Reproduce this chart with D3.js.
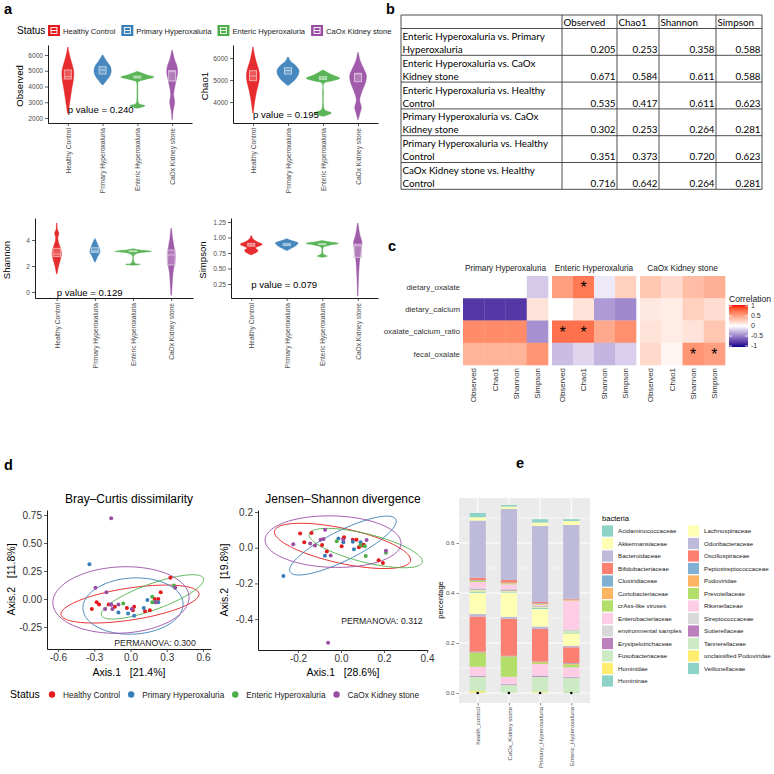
<!DOCTYPE html>
<html>
<head>
<meta charset="utf-8">
<script src="https://cdn.jsdelivr.net/npm/d3@7"></script>
<style>
html,body{margin:0;padding:0;background:#fff;}
svg{display:block;font-family:"Liberation Sans",Arial,sans-serif;}
</style>
</head>
<body>
<svg id="fig" width="774" height="774"></svg>
<script>
// ================= DATA =================
const statusGroups = ["Healthy Control","Primary Hyperoxaluria","Enteric Hyperoxaluria","CaOx Kidney stone"];
const statusColors = ["#E41A1C","#377EB8","#4DAF4A","#984EA3"];

// (a) violin density profiles: [value, relative half-width]
const observedViolins = [
  [[2300,0.02],[2800,0.09],[3300,0.16],[3800,0.23],[4200,0.3],[4600,0.35],[5000,0.35],[5400,0.26],[5800,0.15],[6200,0.06],[6500,0.02]],
  [[4100,0.02],[4400,0.25],[4700,0.45],[5000,0.52],[5300,0.45],[5600,0.25],[6000,0.02]],
  [[2620,0.02],[2780,0.46],[2900,0.1],[3100,0.04],[3600,0.03],[4100,0.03],[4300,0.06],[4450,0.5],[4600,1.0],[4750,0.55],[4950,0.03]],
  [[1900,0.02],[2400,0.05],[3000,0.15],[3500,0.09],[4000,0.16],[4500,0.26],[4900,0.33],[5300,0.29],[5700,0.15],[6300,0.02]]
];
const observedBoxes = [[4476,4622,5048],[4794,5048,5259],[4540,4600,4660],[4349,4942,5005]];

const chao1Violins = [
  [[3500,0.02],[4000,0.1],[4500,0.22],[4900,0.35],[5200,0.39],[5500,0.33],[5900,0.17],[6200,0.08],[6500,0.02]],
  [[4750,0.02],[5000,0.4],[5250,0.62],[5450,0.65],[5700,0.4],[5850,0.16],[6050,0.02]],
  [[3350,0.02],[3500,0.5],[3650,0.1],[3900,0.03],[4400,0.03],[4850,0.06],[4950,0.5],[5080,1.0],[5250,0.5],[5450,0.03]],
  [[3200,0.02],[3500,0.12],[3750,0.2],[4100,0.1],[4500,0.25],[4900,0.45],[5200,0.5],[5500,0.35],[5900,0.12],[6250,0.02]]
];
const chao1Boxes = [[4970,5182,5424],[5273,5424,5560],[5030,5090,5150],[4924,5273,5303]];

const shannonViolins = [
  [[1.4,0.02],[2.0,0.1],[2.5,0.2],[2.9,0.26],[3.3,0.22],[3.8,0.1],[4.2,0.06],[4.5,0.12],[4.8,0.04],[5.3,0.02]],
  [[2.3,0.02],[2.7,0.14],[3.1,0.28],[3.5,0.2],[4.1,0.02]],
  [[2.05,0.02],[2.13,0.4],[2.22,0.1],[2.4,0.04],[2.8,0.04],[3.0,0.3],[3.12,1.0],[3.25,0.3],[3.32,0.02]],
  [[-0.25,0.02],[0.5,0.05],[1.5,0.1],[2.3,0.2],[2.9,0.22],[3.5,0.15],[4.2,0.07],[4.9,0.02]]
];
const shannonBoxes = [[2.72,2.92,3.36],[3.05,3.15,3.4],[3.1,3.13,3.17],[2.08,2.85,3.23]];

const simpsonViolins = [
  [[0.72,0.02],[0.76,0.3],[0.79,0.4],[0.83,0.25],[0.87,0.55],[0.89,0.65],[0.93,0.35],[0.98,0.1],[1.03,0.02]],
  [[0.79,0.02],[0.83,0.3],[0.87,0.55],[0.91,0.67],[0.95,0.3],[0.98,0.02]],
  [[0.68,0.02],[0.70,0.3],[0.73,0.08],[0.78,0.03],[0.84,0.06],[0.88,0.5],[0.905,0.95],[0.93,0.4],[0.95,0.02]],
  [[0.06,0.02],[0.3,0.04],[0.6,0.1],[0.8,0.2],[0.92,0.25],[1.05,0.12],[1.23,0.02]]
];
const simpsonBoxes = [[0.86,0.88,0.905],[0.87,0.88,0.90],[0.885,0.89,0.90],[0.68,0.865,0.89]];

const alphaMetrics = ["Observed","Chao1","Shannon","Simpson"];
const kruskalP = ["0.240","0.195","0.129","0.079"];
const pLabelY = [2508,3409,-0.05,0.245];
const observedTicks = [2000,3000,4000,5000,6000];
const chao1Ticks = [4000,5000,6000];
const shannonTicks = [0,2,4];
const simpsonTicks = [0.25,0.5,0.75,1.0,1.25];

// (b) pairwise p-values
const comparisons = [
  "Enteric Hyperoxaluria vs. Primary Hyperoxaluria",
  "Enteric Hyperoxaluria vs. CaOx Kidney stone",
  "Enteric Hyperoxaluria vs. Healthy Control",
  "Primary Hyperoxaluria vs. CaOx Kidney stone",
  "Primary Hyperoxaluria vs. Healthy Control",
  "CaOx Kidney stone vs. Healthy Control"
];
const pObserved = [0.205,0.671,0.535,0.302,0.351,0.716];
const pChao1    = [0.253,0.584,0.417,0.253,0.373,0.642];
const pShannon  = [0.358,0.611,0.611,0.264,0.720,0.264];
const pSimpson  = [0.588,0.588,0.623,0.281,0.623,0.281];

// (c) correlation heatmap
const dietVars = ["dietary_oxalate","dietary_calcium","oxalate_calcium_ratio","fecal_oxalate"];
const heatFacets = ["Primary Hyperoxaluria","Enteric Hyperoxaluria","CaOx Kidney stone"];
const corrPrimary = [[0,0,0,-0.2],[-0.78,-0.78,-0.78,0.15],[0.6,0.6,0.6,-0.42],[0.4,0.4,0.4,0.55]];
const corrEnteric = [[0.5,0.68,-0.08,0.25],[0,0.15,-0.38,-0.45],[0.72,0.72,0.45,0.58],[-0.25,-0.15,-0.28,-0.18]];
const corrCaOx    = [[0.3,0.2,0.35,0.42],[0.12,0.1,0.25,0.18],[0.15,0.1,0.15,0.3],[0.2,0.05,0.55,0.5]];
const sigPrimary = [["","","",""],["","","",""],["","","",""],["","","",""]];
const sigEnteric = [["","*","",""],["","","",""],["*","*","",""],["","","",""]];
const sigCaOx    = [["","","",""],["","","",""],["","","",""],["","","*","*"]];
const corrLegendTicks = [1,0.5,0,-0.5,-1];

// (d) ordination points: [axis1, axis2]
const bcHealthy = [[0.33,0.19],[0.25,0.06],[0.20,0.00],[0.23,0.00],[0.12,-0.11],[0.16,-0.10],[-0.28,-0.03],[-0.26,-0.05],[-0.32,-0.09],[-0.18,-0.05],[-0.13,-0.07],[-0.03,-0.08],[0.03,-0.07],[0.02,-0.10]];
const bcPrimary = [[-0.34,0.31],[0.14,-0.01],[0.11,-0.08],[0.23,-0.03],[-0.16,-0.05],[-0.10,-0.12],[-0.02,-0.13],[0.03,-0.15],[0.20,-0.03]];
const bcEnteric = [[0.36,0.12],[0.18,0.02],[0.18,-0.03],[-0.06,-0.04],[0.21,-0.03]];
const bcCaOx    = [[-0.16,0.72],[-0.29,0.10],[-0.20,0.06],[0.37,0.10],[-0.21,-0.09],[-0.16,-0.05],[-0.15,-0.09],[-0.10,-0.05],[0.01,-0.09],[0.21,-0.03]];
const jsHealthy = [[-0.190,0.079],[-0.171,0.030],[-0.137,0.083],[-0.088,0.015],[-0.066,-0.021],[0.014,0.059],[0.011,0.051],[0.003,0.008],[0.055,0.045],[0.072,0.045],[0.083,0.002],[0.098,0.013],[0.106,0.017],[0.175,-0.071],[0.195,-0.086]];
const jsPrimary = [[-0.268,-0.158],[-0.075,-0.045],[-0.012,0.051],[0.011,0.030],[0.055,0.034],[0.060,-0.008],[0.091,0.030]];
const jsEnteric = [[-0.020,0.036],[0.111,0.008],[0.115,-0.047],[0.209,-0.028],[0.090,0.015]];
const jsCaOx    = [[-0.222,0.019],[-0.074,0.101],[-0.143,0.023],[-0.121,0.013],[-0.095,0.045],[-0.081,0.049],[-0.048,-0.043],[-0.060,-0.533],[0.011,0.045],[0.119,0.043],[0.209,-0.017]];
// 95% ellipses: center, two conjugate semi-axis vectors (data units)
const bcEllipseCenters = [[-0.004,-0.045],[0.021,-0.063],[0.182,0.019],[-0.079,-0.009]];
const bcEllipseU = [[0.571,0.094],[0.414,0.027],[0.422,0.165],[0.563,0.036]];
const bcEllipseV = [[0.020,-0.141],[0.017,-0.25],[0.036,-0.109],[0.025,-0.295]];
const jsEllipseCenters = [[0.007,0.010],[0.009,0.012],[0.115,-0.002],[-0.037,0.034]];
const jsEllipseU = [[0.316,-0.084],[0.246,0.147],[0.263,-0.079],[0.316,-0.011]];
const jsEllipseV = [[-0.019,-0.095],[0.031,-0.075],[-0.016,-0.077],[-0.005,-0.144]];
const permanova = ["0.300","0.312"];
const axisVariance = {bc:["21.4%","11.8%"], js:["28.6%","19.8%"]};

// (e) relative abundance
const bacteria = ["Acidaminococcaceae","Akkermansiaceae","Bacteroidaceae","Bifidobacteriaceae","Clostridiaceae","Coriobacteriaceae","crAss-like viruses","Enterobacteriaceae","environmental samples","Erysipelotrichaceae","Fusobacteriaceae","Hominidae","Homininae","Lachnospiraceae","Odoribacteraceae","Oscillospiraceae","Peptostreptococcaceae","Podoviridae","Prevotellaceae","Rikenellaceae","Streptococcaceae","Sutterellaceae","Tannerellaceae","unclassified Podoviridae","Veillonellaceae"];
const bacteriaColors = ["#8DD3C7","#FFFFB3","#BEBADA","#FB8072","#80B1D3","#FDB462","#B3DE69","#FCCDE5","#D9D9D9","#BC80BD","#CCEBC5","#FFED6F"];
const sampleGroups = ["health_control","CaOx_Kidney stone","Primary_Hyperoxaluria","Enteric_Hyperoxaluria"];
const abHealthy = [0.017,0.013,0.229,0.009,0.002,0.002,0.004,0.024,0.003,0.003,0.005,0.003,0.005,0.085,0.010,0.140,0.003,0.003,0.055,0.035,0.002,0.003,0.057,0.006,0.002];
const abCaOx    = [0.006,0.009,0.285,0.010,0.002,0.002,0.003,0.018,0.003,0.004,0.003,0.002,0.003,0.097,0.008,0.148,0.002,0.002,0.080,0.028,0.002,0.003,0.030,0.001,0.001];
const abPrimary = [0.013,0.013,0.305,0.005,0.002,0.002,0.002,0.004,0.002,0.002,0.003,0.002,0.004,0.070,0.010,0.130,0.002,0.002,0.006,0.045,0.002,0.004,0.060,0.004,0.001];
const abEnteric = [0.007,0.016,0.295,0.003,0.001,0.003,0.001,0.116,0.002,0.001,0.010,0.001,0.002,0.048,0.006,0.064,0.003,0.002,0.011,0.038,0.002,0.003,0.055,0.002,0.003];
const percentTicks = [0,0.2,0.4,0.6];

// ================= DRAWING =================
const svg = d3.select("#fig");
const defs = svg.append("defs");
const TXT = "#4D4D4D";
const fmtLocale = d3.formatLocale({decimal:".",thousands:",",grouping:[3],currency:["$",""],minus:"-"});

function lin(v1,p1,v2,p2,pa,pb){
  const s = d3.scaleLinear().domain([v1,v2]).range([p1,p2]);
  return d3.scaleLinear().domain([s.invert(pa),s.invert(pb)]).range([pa,pb]);
}
function styleAxis(ax, size, color){
  ax.attr("font-family",null).attr("font-size",null);
  ax.select(".domain").attr("stroke","#000").attr("stroke-width",0.9);
  ax.selectAll(".tick line").attr("stroke","#333").attr("stroke-width",0.8);
  ax.selectAll(".tick text").attr("fill",color).attr("font-size",size);
}

// panel letters
[["a",4,14],["b",386,14],["c",388,251],["d",4,470],["e",516,468]].forEach(([t,x,y])=>{
  svg.append("text").attr("x",x).attr("y",y).attr("font-size",14.5).attr("font-weight","bold").text(t);
});

// ---------- (a) legend ----------
{
  const g = svg.append("g");
  g.append("text").attr("x",17).attr("y",34).attr("font-size",10).text("Status");
  let cx = 48;
  statusGroups.forEach((s,i)=>{
    g.append("rect").attr("x",cx).attr("y",25).attr("width",12).attr("height",11).attr("fill",statusColors[i]);
    g.append("rect").attr("x",cx+3).attr("y",27.5).attr("width",6).attr("height",6).attr("fill","none").attr("stroke","#fff").attr("stroke-width",0.9);
    g.append("line").attr("x1",cx+3).attr("x2",cx+9).attr("y1",30.5).attr("y2",30.5).attr("stroke","#fff").attr("stroke-width",0.9);
    const t = g.append("text").attr("x",cx+15).attr("y",33.5).attr("font-size",7.6).attr("fill","#1A1A1A").text(s);
    cx += 15 + t.node().getComputedTextLength() + 6;
  });
}

// ---------- (a) alpha diversity panels ----------
const alphaPanels = [
  {name:alphaMetrics[0], violins:observedViolins, boxes:observedBoxes, ticks:observedTicks, fmt:d3.format("d"), ref:[2000,118,6000,55], xr:[48,192], yr:[45,123], p:kruskalP[0], pY:pLabelY[0]},
  {name:alphaMetrics[1], violins:chao1Violins, boxes:chao1Boxes, ticks:chao1Ticks, fmt:d3.format("d"), ref:[4000,102,6000,58], xr:[233,378], yr:[45,123], p:kruskalP[1], pY:pLabelY[1]},
  {name:alphaMetrics[2], violins:shannonViolins, boxes:shannonBoxes, ticks:shannonTicks, fmt:d3.format("d"), ref:[0,292,4,240], xr:[35,193], yr:[218,298], p:kruskalP[2], pY:pLabelY[2]},
  {name:alphaMetrics[3], violins:simpsonViolins, boxes:simpsonBoxes, ticks:simpsonTicks, fmt:d3.format(".2f"), ref:[0.25,284,1.25,222], xr:[231,378], yr:[218,298], p:kruskalP[3], pY:pLabelY[3]}
];
alphaPanels.forEach(cfg=>{
  const g = svg.append("g");
  const x = d3.scalePoint().domain(statusGroups).range(cfg.xr).padding(0.57);
  const step = x.step();
  const y = lin(cfg.ref[0],cfg.ref[1],cfg.ref[2],cfg.ref[3],cfg.yr[1],cfg.yr[0]);
  const hw = step*0.48;
  cfg.violins.forEach((prof,i)=>{
    const cx = x(statusGroups[i]);
    const area = d3.area().curve(d3.curveCatmullRom.alpha(0.5))
      .y(d=>y(d[0])).x0(d=>cx-d[1]*hw).x1(d=>cx+d[1]*hw);
    g.append("path").attr("d",area(prof)).attr("fill",statusColors[i]).attr("fill-opacity",0.92)
      .attr("stroke",statusColors[i]).attr("stroke-opacity",0.6).attr("stroke-width",0.6);
  });
  cfg.boxes.forEach((b,i)=>{
    const cx = x(statusGroups[i]); const bw = step*0.2;
    const light = d3.interpolateRgb(statusColors[i],"#fff")(0.62);
    g.append("rect").attr("x",cx-bw/2).attr("width",bw).attr("y",y(b[2])).attr("height",Math.max(0.8,y(b[0])-y(b[2])))
      .attr("fill","#fff").attr("fill-opacity",0.2).attr("stroke",light).attr("stroke-width",1);
    g.append("line").attr("x1",cx-bw/2).attr("x2",cx+bw/2).attr("y1",y(b[1])).attr("y2",y(b[1])).attr("stroke",light).attr("stroke-width",1);
  });
  const ya = g.append("g").attr("transform",`translate(${cfg.xr[0]},0)`)
    .call(d3.axisLeft(y).tickValues(cfg.ticks).tickSize(3).tickSizeOuter(0).tickPadding(2).tickFormat(cfg.fmt));
  styleAxis(ya,6.6,TXT);
  const xa = g.append("g").attr("transform",`translate(0,${cfg.yr[1]})`)
    .call(d3.axisBottom(x).tickSize(3).tickSizeOuter(0));
  styleAxis(xa,6.6,TXT);
  xa.selectAll(".tick text").attr("transform","rotate(-90)").attr("x",-5).attr("y",0).attr("dy","0.35em").attr("text-anchor","end");
  g.append("text").attr("transform",`translate(${cfg.xr[0]-25},${(cfg.yr[0]+cfg.yr[1])/2+2}) rotate(-90)`)
    .attr("text-anchor","middle").attr("font-size",9.6).attr("fill","#000").text(cfg.name);
  g.append("text").attr("x",x(statusGroups[0])).attr("y",y(cfg.pY)).attr("dy","0.35em")
    .attr("font-size",9.6).attr("fill","#000").text("p value = "+cfg.p);
});

// ---------- (b) table ----------
{
  const g = svg.append("g").attr("font-family",'Lato,"Open Sans",sans-serif').attr("fill","#000");
  const colEdges = [401,562,617,659,716,762];
  const tTop = 15, headH = 13.5, rowH = 26.8;
  const tBottom = tTop+headH+rowH*comparisons.length;
  const cols = [pObserved,pChao1,pShannon,pSimpson];
  colEdges.forEach(xv=>g.append("line").attr("x1",xv).attr("x2",xv).attr("y1",tTop).attr("y2",tBottom).attr("stroke","#3a3a3a").attr("stroke-width",0.9));
  for(let r=0;r<=comparisons.length;r++){
    const yy = tTop+headH+rowH*r;
    g.append("line").attr("x1",colEdges[0]).attr("x2",colEdges[5]).attr("y1",yy).attr("y2",yy).attr("stroke","#3a3a3a").attr("stroke-width",0.9);
  }
  g.append("line").attr("x1",colEdges[0]).attr("x2",colEdges[5]).attr("y1",tTop).attr("y2",tTop).attr("stroke","#3a3a3a").attr("stroke-width",0.9);
  alphaMetrics.forEach((m,j)=>{
    g.append("text").attr("x",colEdges[j+1]+1.5).attr("y",tTop+11).attr("font-size",9.8).text(m);
  });
  const fmt3 = d3.format(".3f");
  comparisons.forEach((c,r)=>{
    const top = tTop+headH+rowH*r;
    const words = c.split(" ");
    const lines = [];
    let cur = "";
    const probe = g.append("text").attr("font-size",9.8);
    words.forEach(w=>{
      const test = cur ? cur+" "+w : w;
      probe.text(test);
      if(probe.node().getComputedTextLength() > 156 && cur){ lines.push(cur); cur = w; }
      else cur = test;
    });
    lines.push(cur);
    probe.remove();
    lines.forEach((ln,k)=>{
      g.append("text").attr("x",colEdges[0]+1.5).attr("y",top+11.5+13*k).attr("font-size",9.8).text(ln);
    });
    cols.forEach((arr,j)=>{
      g.append("text").attr("x",colEdges[j+2]-1.5).attr("y",top+24.5).attr("text-anchor","end").attr("font-size",9.8).text(fmt3(arr[r]));
    });
  });
}

// ---------- (c) heatmap ----------
{
  const g = svg.append("g");
  defs.append("clipPath").attr("id","clipC")
    .append("rect").attr("x",381).attr("y",255).attr("width",393).attr("height",170);
  const gc = g.append("g").attr("clip-path","url(#clipC)");
  const color = d3.scaleLinear().domain([-1,0,1]).range(["darkblue","white","red"]).interpolate(d3.interpolateLab);
  const yB = d3.scaleBand().domain(dietVars).range([276,365]);
  const facetRanges = [[463,548],[552,636],[640,725]];
  const facetData = [corrPrimary,corrEnteric,corrCaOx];
  const facetSig = [sigPrimary,sigEnteric,sigCaOx];
  heatFacets.forEach((f,fi)=>{
    const xB = d3.scaleBand().domain(alphaMetrics).range(facetRanges[fi]);
    gc.append("text").attr("x",(facetRanges[fi][0]+facetRanges[fi][1])/2).attr("y",271).attr("text-anchor","middle")
      .attr("font-size",8.2).attr("fill","#1A1A1A").text(f);
    dietVars.forEach((dv,ri)=>{
      alphaMetrics.forEach((m,ci)=>{
        const v = facetData[fi][ri][ci];
        gc.append("rect").attr("x",xB(m)).attr("y",yB(dv)).attr("width",xB.bandwidth()+0.3).attr("height",yB.bandwidth()+0.3)
          .attr("fill",color(v));
        if(facetSig[fi][ri][ci]){
          gc.append("text").attr("x",xB(m)+xB.bandwidth()/2).attr("y",yB(dv)+yB.bandwidth()/2+6)
            .attr("text-anchor","middle").attr("font-size",16).attr("fill","#000").text(facetSig[fi][ri][ci]);
        }
      });
    });
    alphaMetrics.forEach(m=>{
      gc.append("text").attr("transform",`translate(${xB(m)+xB.bandwidth()/2},368) rotate(-90)`)
        .attr("text-anchor","end").attr("dy","0.35em").attr("font-size",7.9).attr("fill","#333").text(m);
    });
  });
  dietVars.forEach(dv=>{
    gc.append("text").attr("x",460).attr("y",yB(dv)+yB.bandwidth()/2).attr("dy","0.35em").attr("text-anchor","end")
      .attr("font-size",7.9).attr("fill","#333").text(dv);
  });
  const grad = defs.append("linearGradient").attr("id","corrGrad").attr("x1",0).attr("x2",0).attr("y1",0).attr("y2",1);
  d3.range(0,1.0001,0.05).forEach(t=>{
    grad.append("stop").attr("offset",t).attr("stop-color",color(1-2*t));
  });
  const ly = d3.scaleLinear().domain([1,-1]).range([306,346]);
  g.append("text").attr("x",729).attr("y",302).attr("font-size",8.6).attr("fill","#1A1A1A").text("Correlation");
  g.append("rect").attr("x",729).attr("y",ly(1)-1).attr("width",19).attr("height",ly(-1)-ly(1)+2).attr("fill","url(#corrGrad)");
  corrLegendTicks.forEach(t=>{
    g.append("line").attr("x1",729).attr("x2",732).attr("y1",ly(t)).attr("y2",ly(t)).attr("stroke","#fff").attr("stroke-width",0.8);
    g.append("line").attr("x1",745).attr("x2",748).attr("y1",ly(t)).attr("y2",ly(t)).attr("stroke","#fff").attr("stroke-width",0.8);
    g.append("text").attr("x",751).attr("y",ly(t)).attr("dy","0.35em").attr("font-size",7).attr("fill","#333").text(fmtLocale.format("")(t));
  });
}

// ---------- (d) ordinations ----------
function ordination(cfg){
  const g = svg.append("g");
  const x = lin(cfg.xref[0],cfg.xref[1],cfg.xref[2],cfg.xref[3],cfg.xr[0],cfg.xr[1]);
  const y = lin(cfg.yref[0],cfg.yref[1],cfg.yref[2],cfg.yref[3],cfg.yr[1],cfg.yr[0]);
  cfg.centers.forEach((c,i)=>{
    const pts = d3.range(0,2*Math.PI+0.001,Math.PI/60).map(t=>[
      c[0]+cfg.U[i][0]*Math.cos(t)+cfg.V[i][0]*Math.sin(t),
      c[1]+cfg.U[i][1]*Math.cos(t)+cfg.V[i][1]*Math.sin(t)]);
    g.append("path").attr("d",d3.line().x(d=>x(d[0])).y(d=>y(d[1]))(pts)).attr("fill","none")
      .attr("stroke",statusColors[i]).attr("stroke-width",0.9);
  });
  cfg.points.forEach((arr,i)=>{
    g.selectAll(null).data(arr).enter().append("circle").attr("cx",d=>x(d[0])).attr("cy",d=>y(d[1])).attr("r",2)
      .attr("fill",statusColors[i]);
  });
  const ya = g.append("g").attr("transform",`translate(${cfg.xr[0]},0)`)
    .call(d3.axisLeft(y).tickValues(cfg.yticks).tickSize(3).tickSizeOuter(0).tickPadding(2).tickFormat(fmtLocale.format(cfg.yfmt)));
  styleAxis(ya,10,"#333");
  const xa = g.append("g").attr("transform",`translate(0,${cfg.yr[1]})`)
    .call(d3.axisBottom(x).tickValues(cfg.xticks).tickSize(3).tickSizeOuter(0).tickPadding(2).tickFormat(fmtLocale.format(".1f")));
  styleAxis(xa,10,"#333");
  g.append("text").attr("x",(cfg.xr[0]+cfg.xr[1])/2).attr("y",503).attr("text-anchor","middle").attr("font-size",12).attr("fill","#000").text(cfg.title);
  g.append("text").attr("x",(cfg.xr[0]+cfg.xr[1])/2).attr("y",676).attr("text-anchor","middle").attr("font-size",10.5).attr("fill","#000").attr("xml:space","preserve").text("Axis.1   ["+cfg.var[0]+"]");
  g.append("text").attr("transform",`translate(${cfg.ytitleX},${(cfg.yr[0]+cfg.yr[1])/2}) rotate(-90)`).attr("text-anchor","middle")
    .attr("font-size",10.5).attr("fill","#000").attr("xml:space","preserve").text("Axis.2   ["+cfg.var[1]+"]");
  g.append("text").attr("x",x(cfg.perm[0])).attr("y",y(cfg.perm[1])).attr("dy","0.35em").attr("text-anchor","end")
    .attr("font-size",8.7).attr("fill","#1A1A1A").text("PERMANOVA: "+cfg.permText);
}
ordination({title:"Bray\u2013Curtis dissimilarity", xref:[0,130.5,0.6,203], yref:[0,599,0.75,515], xr:[47,211], yr:[510,649],
  centers:bcEllipseCenters, U:bcEllipseU, V:bcEllipseV, points:[bcHealthy,bcPrimary,bcEnteric,bcCaOx],
  yticks:[-0.25,0,0.25,0.5,0.75], yfmt:".2f", xticks:[-0.6,-0.3,0,0.3,0.6], var:axisVariance.bc, ytitleX:15,
  perm:[0.54,-0.39], permText:permanova[0]});
ordination({title:"Jensen\u2013Shannon divergence", xref:[0,341,0.4,427], yref:[0,547.7,0.2,512], xr:[258,428], yr:[510,650],
  centers:jsEllipseCenters, U:jsEllipseU, V:jsEllipseV, points:[jsHealthy,jsPrimary,jsEnteric,jsCaOx],
  yticks:[-0.4,-0.2,0,0.2], yfmt:".1f", xticks:[-0.2,0,0.2,0.4], var:axisVariance.js, ytitleX:228,
  perm:[0.38,-0.41], permText:permanova[1]});
{
  const g = svg.append("g");
  g.append("text").attr("x",10).attr("y",698).attr("font-size",10.5).text("Status");
  let cx = 52;
  statusGroups.forEach((s,i)=>{
    g.append("circle").attr("cx",cx).attr("cy",694.5).attr("r",3.2).attr("fill",statusColors[i]);
    const t = g.append("text").attr("x",cx+11).attr("y",697.5).attr("font-size",8.3).attr("fill","#1A1A1A").text(s);
    cx += 11 + t.node().getComputedTextLength() + 11;
  });
}

// ---------- (e) stacked bars ----------
{
  const g = svg.append("g");
  const x = d3.scalePoint().domain(sampleGroups).range([459,590]).padding(0.6);
  const y = lin(0,693,0.6,543,703,498);
  const [y0,y1] = y.range();
  g.append("rect").attr("x",459).attr("y",y1).attr("width",131).attr("height",y0-y1).attr("fill","#EBEBEB");
  [0.1,0.3,0.5,0.7].forEach(t=>g.append("line").attr("x1",459).attr("x2",590).attr("y1",y(t)).attr("y2",y(t)).attr("stroke","#fff").attr("stroke-width",0.5));
  percentTicks.forEach(t=>g.append("line").attr("x1",459).attr("x2",590).attr("y1",y(t)).attr("y2",y(t)).attr("stroke","#fff").attr("stroke-width",1));
  sampleGroups.forEach(s=>g.append("line").attr("x1",x(s)).attr("x2",x(s)).attr("y1",y0).attr("y2",y1).attr("stroke","#fff").attr("stroke-width",1));
  const sampleData = [abHealthy,abCaOx,abPrimary,abEnteric];
  const bw = x.step()*0.52;
  sampleGroups.forEach((s,si)=>{
    let cum = 0;
    for(let k=bacteria.length-1;k>=0;k--){
      const v = sampleData[si][k];
      g.append("rect").attr("x",x(s)-bw/2).attr("width",bw).attr("y",y(cum+v)).attr("height",y(cum)-y(cum+v)+0.05)
        .attr("fill",bacteriaColors[k%bacteriaColors.length]);
      cum += v;
    }
    g.append("circle").attr("cx",x(s)).attr("cy",y(0)).attr("r",1.3).attr("fill","#000");
  });
  const ya = g.append("g").attr("transform","translate(459,0)")
    .call(d3.axisLeft(y).tickValues(percentTicks).tickSize(2.5).tickSizeOuter(0).tickPadding(2).tickFormat(d3.format(".1f")));
  ya.select(".domain").remove();
  ya.selectAll(".tick line").attr("stroke","#333").attr("stroke-width",0.6);
  ya.selectAll(".tick text").attr("fill",TXT).attr("font-size",6.2);
  ya.attr("font-family",null).attr("font-size",null);
  const xa = g.append("g").attr("transform",`translate(0,${y0})`)
    .call(d3.axisBottom(x).tickSize(2.5).tickSizeOuter(0));
  xa.select(".domain").remove();
  xa.attr("font-family",null).attr("font-size",null);
  xa.selectAll(".tick line").attr("stroke","#333").attr("stroke-width",0.6);
  xa.selectAll(".tick text").attr("fill",TXT).attr("font-size",6).attr("transform","rotate(-90)").attr("x",-4).attr("y",0).attr("dy","0.35em").attr("text-anchor","end");
  g.append("text").attr("transform","translate(443,600) rotate(-90)").attr("text-anchor","middle").attr("font-size",7.5).attr("fill","#000").text("percentage");
  g.append("text").attr("x",602).attr("y",521).attr("font-size",7.6).attr("fill","#000").text("bacteria");
  const perCol = 13;
  bacteria.forEach((b,k)=>{
    const col = Math.floor(k/perCol), row = k%perCol;
    const kx = col===0 ? 602 : 688;
    const cy = 531 + row*12.5;
    g.append("rect").attr("x",kx).attr("y",cy-5.6).attr("width",11).attr("height",11.2).attr("fill",bacteriaColors[k%bacteriaColors.length]);
    g.append("text").attr("x",kx+16).attr("y",cy).attr("dy","0.35em").attr("font-size",6.2).attr("fill","#1A1A1A").text(b);
  });
}
</script>
</body>
</html>
